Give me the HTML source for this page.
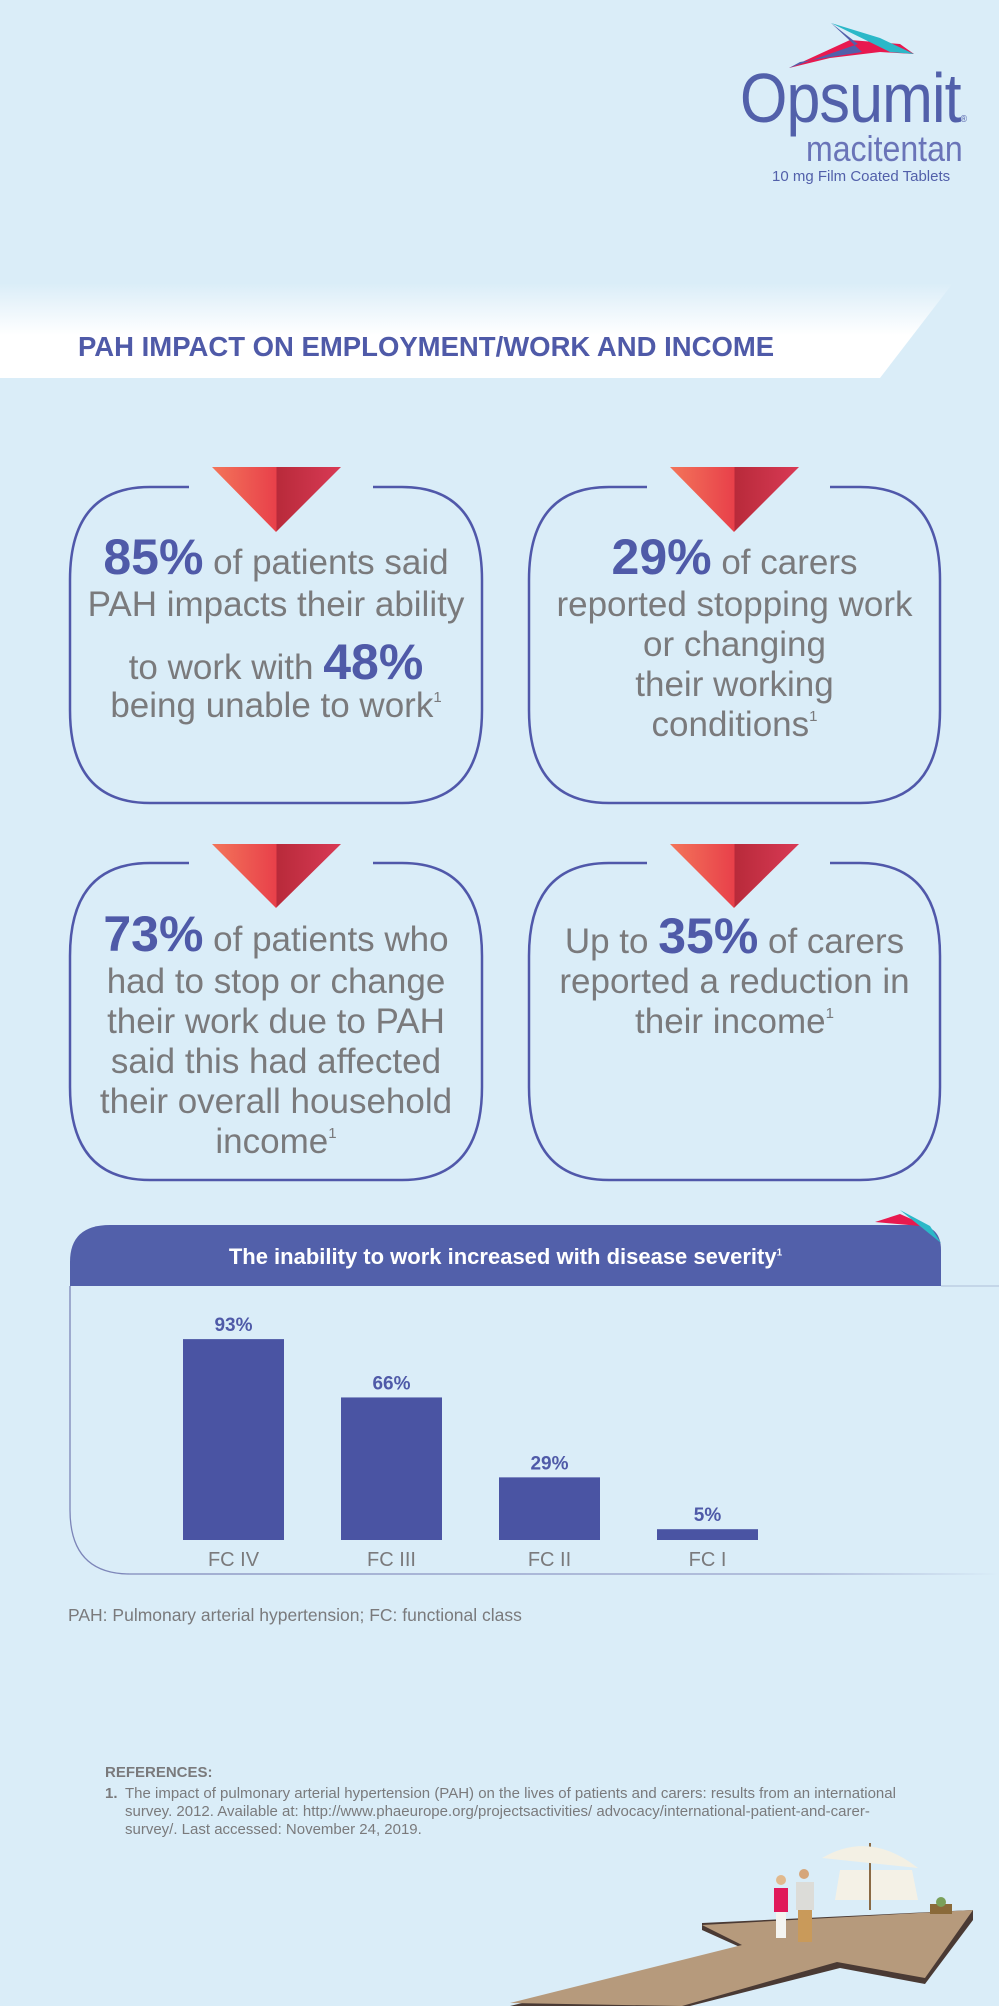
<!DOCTYPE html>
<html><head><meta charset="utf-8">
<style>
html,body{margin:0;padding:0}
body{width:999px;height:2006px;position:relative;background:#daedf8;overflow:hidden;font-family:"Liberation Sans",sans-serif}
.ab{position:absolute}
.ln{position:absolute;left:0;width:100%;text-align:center;font-size:35px;line-height:40px;height:40px;color:#7a7a7c;white-space:nowrap}
.ln b{color:#4f5aa8;font-size:50px;font-weight:bold;line-height:0}
.ln sup{font-size:15px;vertical-align:15px;line-height:0}
</style></head>
<body>
<svg class="ab" style="left:0;top:0" width="999" height="2006">
  <defs>
    <linearGradient id="band" x1="0" y1="0" x2="0" y2="1">
      <stop offset="0" stop-color="#daedf8"/>
      <stop offset="0.55" stop-color="#ffffff"/>
      <stop offset="1" stop-color="#ffffff"/>
    </linearGradient>
    <linearGradient id="tri" x1="0" y1="0" x2="1" y2="0">
      <stop offset="0" stop-color="#f3755a"/>
      <stop offset="0.5" stop-color="#e8404a"/>
      <stop offset="0.5" stop-color="#b82a3a"/>
      <stop offset="1" stop-color="#d93a55"/>
    </linearGradient>
    <linearGradient id="fade" x1="0" y1="0" x2="1" y2="0">
      <stop offset="0" stop-color="#7c85b8"/>
      <stop offset="0.8" stop-color="#9aa3cc"/>
      <stop offset="1" stop-color="#daedf8"/>
    </linearGradient>
  </defs>
  <g>
    <polygon points="789,68 850,40 900,44 914,54 880,52 830,58" fill="#e8194f"/>
    <polygon points="831,23 880,38 914,54 890,52" fill="#2bb8c8"/>
    <polygon points="831,23 862,52 800,62 789,68 858,44" fill="#5260aa"/>
  </g>
  <polygon points="0,283 953,283 880,378 0,378" fill="url(#band)"/>
  <g fill="none" stroke="#5058aa" stroke-width="2.5">
    <path d="M189,487 H150 Q70,487 70,580 V710 Q70,803 150,803 H402 Q482,803 482,710 V580 Q482,487 402,487 H373"/>
    <path d="M647,487 H609 Q529,487 529,580 V710 Q529,803 609,803 H860 Q940,803 940,710 V580 Q940,487 860,487 H830"/>
    <path d="M189,863 H150 Q70,863 70,956 V1087 Q70,1180 150,1180 H402 Q482,1180 482,1087 V956 Q482,863 402,863 H373"/>
    <path d="M647,863 H609 Q529,863 529,956 V1087 Q529,1180 609,1180 H860 Q940,1180 940,1087 V956 Q940,863 860,863 H830"/>
  </g>
  <polygon points="212,467 341,467 276,532" fill="url(#tri)"/>
  <polygon points="670,467 799,467 734,532" fill="url(#tri)"/>
  <polygon points="212,844 341,844 276,908" fill="url(#tri)"/>
  <polygon points="670,844 799,844 734,908" fill="url(#tri)"/>
  <path d="M70,1286 V1262 Q70,1225 110,1225 H915 Q941,1225 941,1250 V1286 Z" fill="#5260aa"/>
  <polygon points="875,1222 900,1214 918,1222 941,1242 920,1226" fill="#e8194f"/>
  <polygon points="900,1210 941,1243 930,1226" fill="#2bb8c8"/>
  <line x1="941" y1="1286" x2="999" y2="1286" stroke="#c4d6e8" stroke-width="2"/>
  <path d="M70,1286 V1510 Q70,1574 130,1574 H999" fill="none" stroke="url(#fade)" stroke-width="1.3"/>
  <g id="chart"></g>
  <g>
    <polygon points="690,2006 840,1968 925,1984 973,1920 973,1910 702,1923 702,1930 742,1948 510,2006" fill="#4a3a34"/>
    <polygon points="510,2003 742,1945 702,1925 973,1910 925,1978 837,1962 682,2006" fill="#b69a7c"/>
    <polygon points="835,1900 918,1900 912,1870 840,1870" fill="#f4f1e6"/>
    <line x1="870" y1="1843" x2="870" y2="1910" stroke="#8a6a44" stroke-width="2"/>
    <path d="M822,1858 Q870,1830 918,1868 Z" fill="#f3f0e4"/>
    <rect x="774" y="1888" width="14" height="24" fill="#e0195a"/>
    <rect x="776" y="1912" width="10" height="26" fill="#f4f4f0"/>
    <circle cx="781" cy="1880" r="5" fill="#e1b98d"/>
    <rect x="796" y="1882" width="18" height="28" fill="#dcdcd8"/>
    <rect x="798" y="1910" width="14" height="32" fill="#c99a5a"/>
    <circle cx="804" cy="1874" r="5" fill="#d6a67a"/>
    <rect x="930" y="1904" width="22" height="10" fill="#8a6a3a"/>
    <circle cx="941" cy="1902" r="5" fill="#7aa05a"/>
  </g>
</svg>

<div class="ab" style="left:740px;top:58px;font-size:70px;line-height:80px;color:#5260aa;letter-spacing:-1px;transform:scaleX(0.87);transform-origin:0 0">Opsumit<span style="font-size:10px">®</span></div>
<div class="ab" style="left:806px;top:129px;font-size:36px;line-height:40px;color:#6a74b8;transform:scaleX(0.89);transform-origin:0 0">macitentan</div>
<div class="ab" style="left:772px;top:168px;font-size:15px;line-height:18px;color:#5260aa">10 mg Film Coated Tablets</div>

<div class="ab" style="left:78px;top:330px;font-size:27.5px;line-height:34px;font-weight:bold;color:#4f5aa8">PAH IMPACT ON EMPLOYMENT/WORK AND INCOME</div>

<div class="ab" style="left:70px;top:0;width:412px;height:10px">
  <div class="ln" style="top:543px"><b>85%</b> of patients said</div>
  <div class="ln" style="top:585px">PAH impacts their ability</div>
  <div class="ln" style="top:648px">to work with <b>48%</b></div>
  <div class="ln" style="top:686px">being unable to work<sup>1</sup></div>
</div>
<div class="ab" style="left:529px;top:0;width:411px;height:10px">
  <div class="ln" style="top:543px"><b>29%</b> of carers</div>
  <div class="ln" style="top:585px">reported stopping work</div>
  <div class="ln" style="top:625px">or changing</div>
  <div class="ln" style="top:665px">their working</div>
  <div class="ln" style="top:705px">conditions<sup>1</sup></div>
</div>
<div class="ab" style="left:70px;top:0;width:412px;height:10px">
  <div class="ln" style="top:920px"><b>73%</b> of patients who</div>
  <div class="ln" style="top:962px">had to stop or change</div>
  <div class="ln" style="top:1002px">their work due to PAH</div>
  <div class="ln" style="top:1042px">said this had affected</div>
  <div class="ln" style="top:1082px">their overall household</div>
  <div class="ln" style="top:1122px">income<sup>1</sup></div>
</div>
<div class="ab" style="left:529px;top:0;width:411px;height:10px">
  <div class="ln" style="top:922px">Up to <b>35%</b> of carers</div>
  <div class="ln" style="top:962px">reported a reduction in</div>
  <div class="ln" style="top:1002px">their income<sup>1</sup></div>
</div>

<div class="ab" style="left:70px;width:871px;top:1243px;text-align:center;font-size:22px;line-height:28px;font-weight:bold;color:#fff">The inability to work increased with disease severity<sup style="font-size:10px;line-height:0">1</sup></div>

<div class="ab" style="left:68px;top:1604px;font-size:17.5px;line-height:22px;color:#7a7a7c">PAH: Pulmonary arterial hypertension; FC: functional class</div>

<div class="ab" style="left:105px;top:1764px;width:815px;color:#7a7a7c;font-size:15px;line-height:18px">
  <div style="font-weight:bold;font-size:15px;margin-bottom:3px">REFERENCES:</div>
  <div style="position:relative;padding-left:20px"><span style="position:absolute;left:0;font-weight:bold">1.</span>The impact of pulmonary arterial hypertension (PAH) on the lives of patients and carers: results from an international survey. 2012. Available at: http://www.phaeurope.org/projectsactivities/ advocacy/international-patient-and-carer-survey/. Last accessed: November 24, 2019.</div>
</div>

<script>
const categories = ["FC IV", "FC III", "FC II", "FC I"];
const values = [93, 66, 29, 5];
const valueLabels = ["93%", "66%", "29%", "5%"];

const NS = "http://www.w3.org/2000/svg";
const g = document.getElementById("chart");
const baseY = 1540, pxPerUnit = 2.16, firstX = 183, step = 158, barW = 101;
function xScale(i){ return firstX + i * step; }
function yScale(v){ return baseY - v * pxPerUnit; }
categories.forEach((c, i) => {
  const x = xScale(i), top = yScale(values[i]);
  const r = document.createElementNS(NS, "rect");
  r.setAttribute("x", x); r.setAttribute("y", top);
  r.setAttribute("width", barW); r.setAttribute("height", baseY - top);
  r.setAttribute("fill", "#4a54a3");
  
  
  g.appendChild(r);
  const t = document.createElementNS(NS, "text");
  t.setAttribute("x", x + barW / 2); t.setAttribute("y", top - 8);
  t.setAttribute("text-anchor", "middle");
  t.setAttribute("font-family", '"Liberation Sans",sans-serif');
  t.setAttribute("font-size", "19"); t.setAttribute("font-weight", "bold");
  t.setAttribute("fill", "#4f5aa8");
  t.textContent = valueLabels[i];
  
  
  g.appendChild(t);
  const l = document.createElementNS(NS, "text");
  l.setAttribute("x", x + barW / 2); l.setAttribute("y", baseY + 26);
  l.setAttribute("text-anchor", "middle");
  l.setAttribute("font-family", '"Liberation Sans",sans-serif');
  l.setAttribute("font-size", "20"); l.setAttribute("fill", "#7a7a7c");
  l.textContent = c;
  
  
  g.appendChild(l);
});
</script>
</body></html>
